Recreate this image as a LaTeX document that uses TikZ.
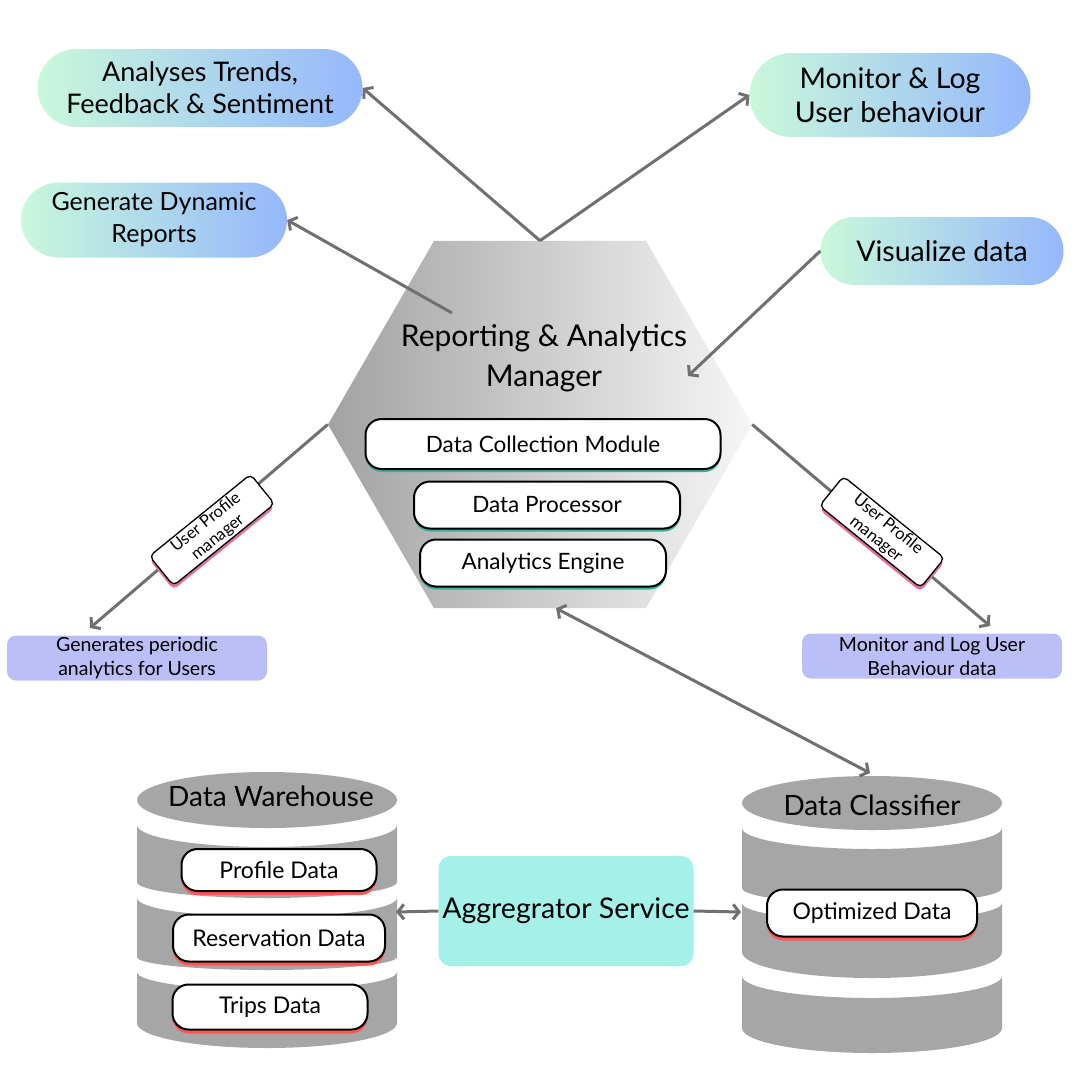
\documentclass[tikz,border=0pt]{standalone}
\usepackage{fontspec}
\setmainfont{Lato}
\usetikzlibrary{arrows.meta,shapes.geometric,shapes.misc,shadows}
\definecolor{arrowgray}{HTML}{707070}
\definecolor{dbgray}{HTML}{A6A6A6}
\definecolor{hexdark}{HTML}{A2A2A2}
\definecolor{hexlight}{HTML}{F6F6F6}
\definecolor{pillgreen}{HTML}{C9F8DB}
\definecolor{pillblue}{HTML}{94B8FC}
\definecolor{lavender}{HTML}{BCBEF7}
\definecolor{aqua}{HTML}{A3F1E9}
\definecolor{tealshadow}{HTML}{35B29D}
\definecolor{redshadow}{HTML}{FF5757}
\definecolor{pinkshadow}{HTML}{E0719E}

\begin{document}
\begin{tikzpicture}[
    x=1pt,
    y=1pt,
    connector/.style={
        draw=arrowgray,
        line width=3pt,
        -{Straight Barb[length=6pt,width=15pt]}
    },
    gradpill/.style={
        rounded rectangle,
        left color=pillgreen,
        right color=pillblue,
        align=center,
        inner sep=0pt
    },
    module/.style={
        rectangle,
        rounded corners=16pt,
        draw=black,
        line width=2pt,
        fill=white,
        align=center,
        inner sep=0pt,
        font=\fontsize{22.5}{25}\selectfont,
        drop shadow={shadow xshift=0pt, shadow yshift=-3pt, opacity=1, fill=tealshadow}
    },
    datapill/.style={
        module,
        font=\fontsize{23}{26}\selectfont,
        drop shadow={shadow xshift=0pt, shadow yshift=-4pt, opacity=1, fill=redshadow}
    },
    note/.style={
        rectangle,
        rounded corners=9pt,
        fill=lavender,
        align=center,
        inner sep=0pt,
        minimum width=260pt,
        minimum height=45pt,
        font=\fontsize{19.5}{24}\selectfont
    },
    tag/.style={
        rectangle,
        rounded corners=5pt,
        draw=black,
        line width=1.3pt,
        fill=white,
        align=center,
        inner sep=0pt,
        minimum width=130pt,
        minimum height=38pt,
        font=\fontsize{16.5}{19}\selectfont,
        drop shadow={shadow xshift=0pt, shadow yshift=-4pt, opacity=1, fill=pinkshadow}
    },
    dbtitle/.style={
        font=\fontsize{28}{30}\selectfont
    }
]

\fill[white] (0,0) rectangle (1080,-1080);
\useasboundingbox (0,0) rectangle (1080,-1080);

\node[regular polygon, regular polygon sides=6, minimum size=424pt,
      inner sep=0pt, left color=hexdark, right color=hexlight] (hex)
at (540,-424.5) {};

\node[align=center, font=\fontsize{30}{40}\selectfont] (hexTitle) at (544,-358)
{Reporting \& Analytics\\Manager};

\node[module, minimum width=355pt, minimum height=50pt] (collect) at (543,-444)
{Data Collection Module};

\node[module, minimum width=266pt, minimum height=47pt] (process) at (547,-505)
{Data Processor};

\node[module, minimum width=246pt, minimum height=47pt] (engine) at (543,-563)
{Analytics Engine};

\node[gradpill, minimum width=325pt, minimum height=78pt,
      font=\fontsize{27}{32}\selectfont] (trends) at (200,-88)
{Analyses Trends,\\Feedback \& Sentiment};

\node[gradpill, minimum width=266pt, minimum height=75pt,
      font=\fontsize{25}{32}\selectfont] (reports) at (154,-220)
{Generate Dynamic\\Reports};

\node[gradpill, minimum width=281pt, minimum height=84pt,
      font=\fontsize{28.5}{34}\selectfont] (monitor) at (890,-95)
{Monitor \& Log\\User behaviour};

\node[gradpill, minimum width=243pt, minimum height=68pt,
      font=\fontsize{28.5}{30}\selectfont] (visualize) at (942,-251)
{Visualize data};

\node[note] (periodic) at (137,-658)
{Generates periodic\\analytics for Users};

\node[note] (behaviour) at (932,-656)
{Monitor and Log User\\Behaviour data};

\coordinate (reportsFoot) at (452,-313);
\coordinate (visualizeTip) at (688,-376);
\coordinate (periodicTip) at (90,-628);
\coordinate (behaviourTip) at (990,-626);

\draw[connector]
(hex.north) -- (trends.east);

\draw[connector]
(hex.north) -- (monitor.west);

\draw[connector]
(reportsFoot) -- (reports.east);

\draw[connector]
(visualize.west) -- (visualizeTip);

\draw[connector]
(hex.west) -- (periodicTip);

\draw[connector]
(hex.east) -- (behaviourTip);

\node[tag, rotate=39] (leftTag) at (212,-530)
{User Profile\\manager};

\node[tag, rotate=-39] (rightTag) at (882,-532)
{User Profile\\manager};

% data warehouse
\fill[dbgray] (267,-800) ellipse [x radius=130, y radius=28];
\fill[dbgray] (137,-825) -- (137,-882)
  arc[start angle=180, end angle=360, x radius=130, y radius=16]
  -- (397,-825) arc[start angle=0, end angle=-180, x radius=130, y radius=22] -- cycle;
\fill[dbgray] (137,-898) -- (137,-957)
  arc[start angle=180, end angle=360, x radius=130, y radius=13]
  -- (397,-898) arc[start angle=0, end angle=-180, x radius=130, y radius=19] -- cycle;
\fill[dbgray] (137,-972) -- (137,-1023)
  arc[start angle=180, end angle=360, x radius=130, y radius=25]
  -- (397,-972) arc[start angle=0, end angle=-180, x radius=130, y radius=18] -- cycle;

\node[dbtitle] (warehouse) at (271,-796) {Data Warehouse};

\node[datapill, minimum width=195pt, minimum height=42pt] (profile) at (279,-870)
{Profile Data};

\node[datapill, minimum width=212pt, minimum height=47pt] (reservation) at (279,-938)
{Reservation Data};

\node[datapill, minimum width=195pt, minimum height=45pt] (trips) at (270,-1007)
{Trips Data};

% data classifier
\fill[dbgray] (872,-803) ellipse [x radius=130, y radius=27];
\fill[dbgray] (742,-828) -- (742,-888)
  arc[start angle=180, end angle=360, x radius=130, y radius=16]
  -- (1002,-828) arc[start angle=0, end angle=-180, x radius=130, y radius=21] -- cycle;
\fill[dbgray] (742,-903) -- (742,-952)
  arc[start angle=180, end angle=360, x radius=130, y radius=26]
  -- (1002,-903) arc[start angle=0, end angle=-180, x radius=130, y radius=18] -- cycle;
\fill[dbgray] (742,-976) -- (742,-1028)
  arc[start angle=180, end angle=360, x radius=130, y radius=25]
  -- (1002,-976) arc[start angle=0, end angle=-180, x radius=130, y radius=22] -- cycle;

\node[dbtitle] (classifier) at (872,-805) {Data Classifier};

\node[datapill, minimum width=210pt, minimum height=47pt] (optimized) at (872,-913)
{Optimized Data};

\node[rectangle, rounded corners=12pt, fill=aqua, minimum width=255pt,
      minimum height=110pt, font=\fontsize{28.5}{30}\selectfont] (aggregator)
at (566,-911) {Aggregrator Service};

\coordinate (warehouseEdge) at (396,-912);
\coordinate (classifierEdge) at (741,-912);
\coordinate (classifierTop) at (870,-773);

\draw[connector]
(aggregator.west) -- (warehouseEdge);

\draw[connector]
(aggregator.east) -- (classifierEdge);

\draw[connector, {Straight Barb[length=6pt,width=15pt]}-{Straight Barb[length=6pt,width=15pt]}]
(hex.-85) -- (classifierTop);

\end{tikzpicture}
\end{document}
